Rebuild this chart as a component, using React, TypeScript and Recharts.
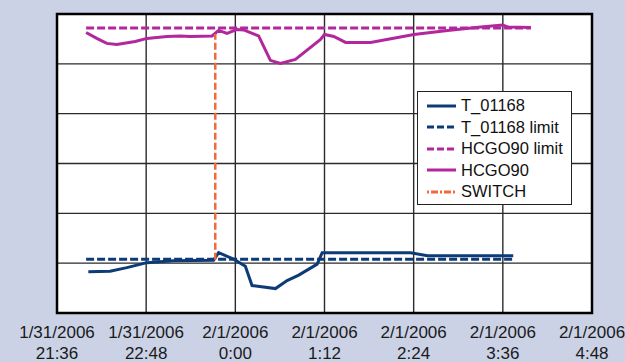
import { LineChart, Line, XAxis, YAxis, CartesianGrid, ReferenceArea } from 'recharts'

// minutes after 1/31/2006 21:36
const hcgoTime = [23.5, 32.1, 40.2, 48.3, 63.1, 72.6, 88.7, 99.5, 107.6, 125.2, 130.5, 137.3, 145.4, 150.7, 162.8, 172.3, 180.4, 192.5, 212.8, 216, 223.5, 233, 253.2, 288.2, 315.3, 342.2, 359.8, 363.8, 382.7]
const hcgoValues = [5.63, 5.51, 5.41, 5.39, 5.45, 5.51, 5.55, 5.56, 5.55, 5.56, 5.67, 5.61, 5.69, 5.68, 5.56, 5.07, 5.01, 5.09, 5.49, 5.59, 5.55, 5.43, 5.43, 5.59, 5.67, 5.74, 5.78, 5.74, 5.73]

const tTime = [25.3, 42.9, 56.4, 72.6, 94.1, 126.4, 130.5, 142.6, 152.1, 157.5, 176.4, 185.8, 195.2, 210.1, 214.1, 285.6, 299.1, 368.4]
const tValues = [0.83, 0.84, 0.91, 1.01, 1.05, 1.06, 1.21, 1.08, 0.94, 0.55, 0.49, 0.65, 0.76, 0.98, 1.21, 1.21, 1.15, 1.15]

const hcgoLimitTime = [23.5, 382.7]
const hcgoLimitValues = [5.72, 5.72]
const tLimitTime = [23.5, 368.4]
const tLimitValues = [1.08, 1.08]
const switchTime = [127.8, 127.8]
const switchValues = [1.07, 5.6]

const xTicks = [0, 72, 144, 216, 288, 360, 432]
const dateLabels = ['1/31/2006', '1/31/2006', '2/1/2006', '2/1/2006', '2/1/2006', '2/1/2006', '2/1/2006']
const timeLabels = ['21:36', '22:48', '0:00', '1:12', '2:24', '3:36', '4:48']
const yTicks = [0, 1, 2, 3, 4, 5, 6]

const toPoints = (ts: number[], vs: number[]) => ts.map((t, i) => ({ t, v: vs[i] }))

const NAVY = '#0d3b78'
const MAGENTA = '#b3279c'
const ORANGE = '#f2693a'
const FONT = '"Liberation Sans", Arial, sans-serif'

const legendItems = [
  { name: 'T_01168', color: NAVY, dash: undefined },
  { name: 'T_01168 limit', color: NAVY, dash: '7 3' },
  { name: 'HCGO90 limit', color: MAGENTA, dash: '7 3' },
  { name: 'HCGO90', color: MAGENTA, dash: undefined },
  { name: 'SWITCH', color: ORANGE, dash: '2 2 7 2' },
]

function DateTick(props: any) {
  const { x, y, index } = props
  return (
    <g transform={`translate(${x},${y})`}>
      <text x={0} y={0} textAnchor="middle" fill="#1a1a1a" fontSize={17} fontFamily={FONT}>
        <tspan x={0} dy={17}>{dateLabels[index]}</tspan>
        <tspan x={0} dy={21}>{timeLabels[index]}</tspan>
      </text>
    </g>
  )
}

function LegendBox() {
  return (
    <div
      style={{
        position: 'absolute',
        left: 417,
        top: 91,
        background: '#fff',
        border: '1.5px solid #222',
        width: 155,
        height: 114,
        boxSizing: 'border-box',
        padding: '3px 0 0 9px',
        fontFamily: FONT,
        fontSize: 16.5,
        color: '#111',
      }}
    >
      {legendItems.map((item) => (
        <div key={item.name} style={{ display: 'flex', alignItems: 'center', height: 21.5 }}>
          <svg width={30} height={6} style={{ marginRight: 4 }}>
            <line x1={0} y1={3} x2={29} y2={3} stroke={item.color} strokeWidth={3} strokeDasharray={item.dash} />
          </svg>
          <span>{item.name}</span>
        </div>
      ))}
    </div>
  )
}

export default function App() {
  return (
    <div style={{ position: 'absolute', left: 0, top: 0, width: 625, height: 362, background: '#cbd2e6' }}>
      <LineChart width={625} height={362} margin={{ top: 14, right: 33, left: 57, bottom: 0 }}>
        <CartesianGrid
          stroke="#2a2a2a"
          strokeWidth={1.4}
          fill="#fff"
          horizontalValues={yTicks}
          verticalValues={xTicks}
        />
        <XAxis
          dataKey="t"
          type="number"
          domain={[0, 432]}
          ticks={xTicks}
          tick={<DateTick />}
          tickLine={false}
          axisLine={false}
          height={49}
          interval={0}
          allowDataOverflow
        />
        <YAxis hide type="number" domain={[0, 6]} ticks={yTicks} width={0} />
        <ReferenceArea x1={0} x2={432} y1={0} y2={6} fill="none" stroke="#000" strokeWidth={2.5} ifOverflow="visible" />
        <Line
          data={toPoints(hcgoLimitTime, hcgoLimitValues)}
          dataKey="v"
          stroke={MAGENTA}
          strokeWidth={3}
          strokeDasharray="8 3"
          dot={false}
          isAnimationActive={false}
          name="HCGO90 limit"
        />
        <Line
          data={toPoints(tLimitTime, tLimitValues)}
          dataKey="v"
          stroke={NAVY}
          strokeWidth={3}
          strokeDasharray="8 3"
          dot={false}
          isAnimationActive={false}
          name="T_01168 limit"
        />
        <Line
          data={toPoints(hcgoTime, hcgoValues)}
          dataKey="v"
          type="linear"
          stroke={MAGENTA}
          strokeWidth={3}
          dot={false}
          isAnimationActive={false}
          name="HCGO90"
        />
        <Line
          data={toPoints(tTime, tValues)}
          dataKey="v"
          type="linear"
          stroke={NAVY}
          strokeWidth={3}
          dot={false}
          isAnimationActive={false}
          name="T_01168"
        />
        <Line
          data={toPoints(switchTime, switchValues)}
          dataKey="v"
          stroke={ORANGE}
          strokeWidth={2.5}
          strokeDasharray="7 3"
          dot={false}
          isAnimationActive={false}
          name="SWITCH"
        />
      </LineChart>
      <LegendBox />
    </div>
  )
}
